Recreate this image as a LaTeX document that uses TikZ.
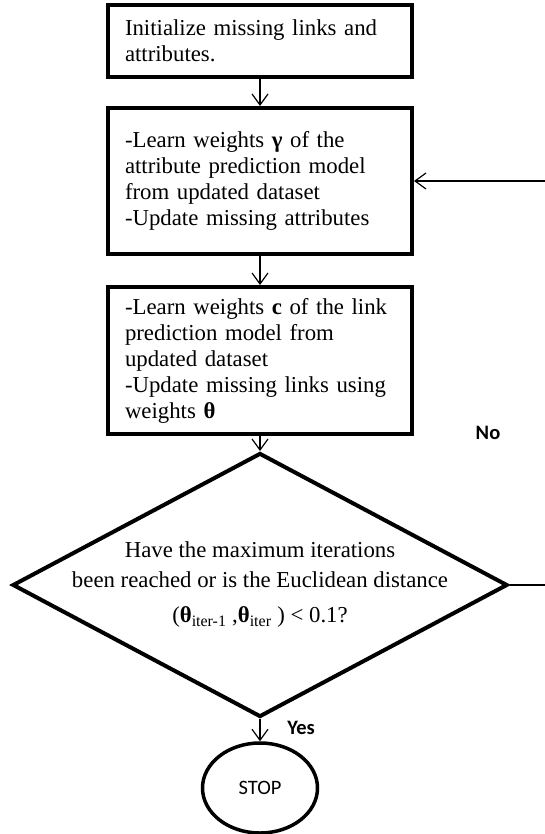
\documentclass[tikz,border=0pt]{standalone}
\usepackage{fontspec}
\setmainfont{Liberation Serif}
\newfontfamily\calib{Carlito}
\usetikzlibrary{shapes.geometric,arrows.meta}
\begin{document}
\begin{tikzpicture}[x=1pt,y=-1pt,
  boxst/.style={draw, line width=4pt, text width=270pt, inner xsep=17pt, inner ysep=2pt,
    align=left, font=\fontsize{22.8}{26}\selectfont},
  conn/.style={line width=1.2pt, -{Straight Barb[length=11pt,width=16pt]}},
  sanslab/.style={font=\calib\fontsize{20.5}{24}\selectfont}
]
\useasboundingbox (0,0) rectangle (545,834);

\node[boxst, minimum height=72pt] (b1) at (260,41) {Initialize missing links and\\attributes.};
\node[boxst, minimum height=146pt] (b2) at (260,181) {-Learn weights \textbf{γ} of the\\attribute prediction model\\from updated dataset\\-Update missing attributes};
\node[boxst, minimum height=147pt] (b3) at (260,360.5) {-Learn weights \textbf{c} of the link\\prediction model from\\updated dataset\\-Update missing links using\\weights \textbf{θ}};

\node[draw, diamond, line width=4pt, minimum width=495pt, minimum height=264pt, inner sep=0pt] (d) at (260,585) {};
\node[align=center, font=\fontsize{22.8}{30}\selectfont] (dt) at (d.center) {Have the maximum iterations\\been reached or is the Euclidean distance\\[5pt](\textbf{θ}\textsubscript{iter-1} ,\textbf{θ}\textsubscript{iter} ) < 0.1?};

\node[draw, ellipse, line width=3.5pt, minimum width=115pt, minimum height=90pt, inner sep=0pt, sanslab] (stop) at (260,788) {STOP};

\coordinate (loop) at (549,0);

\draw[conn] (b1.south) -- (b2.north);
\draw[conn] (b2.south) -- (b3.north);
\draw[conn] (b3.south) -- (d.north);
\draw[conn] (d.south) -- (stop.north);
\draw[conn] (d.east) -- (d.east -| loop) |- (b2.east);

\node[sanslab, font=\calib\bfseries\fontsize{20.5}{24}\selectfont] (no) at (488,433) {No};
\node[sanslab, font=\calib\bfseries\fontsize{20.5}{24}\selectfont] (yes) at (301,728) {Yes};
\end{tikzpicture}
\end{document}
